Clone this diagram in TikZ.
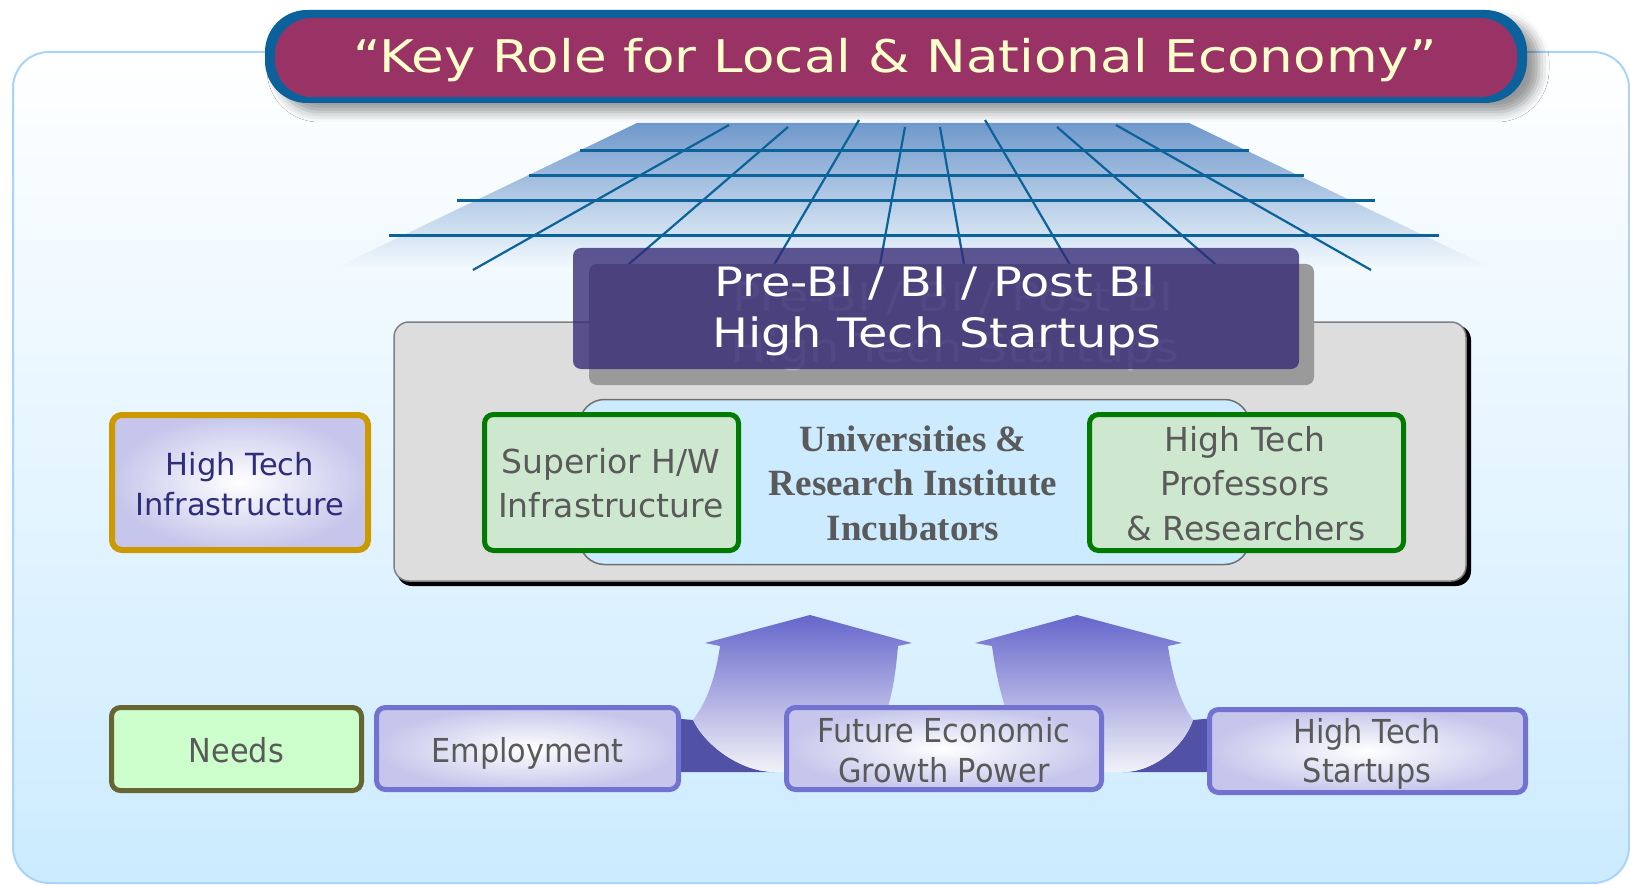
\documentclass[tikz,border=0pt]{standalone}
\usepackage{fontspec}
\usetikzlibrary{shadows.blur}
\newfontfamily\widesans[FakeStretch=1.18]{DejaVu Sans}
\newfontfamily\plainsans{DejaVu Sans}
\newfontfamily\narrowsans[FakeStretch=0.92]{DejaVu Sans}
\newfontfamily\boldserif{Liberation Serif}
\definecolor{bgblue}{HTML}{CCEBFF}
\definecolor{bgline}{HTML}{A8D4FA}
\definecolor{rimblue}{HTML}{0B619B}
\definecolor{plum}{HTML}{993366}
\definecolor{cream}{HTML}{FFFFCC}
\definecolor{gridtop}{HTML}{6F98CB}
\definecolor{gridline}{HTML}{0B6399}
\definecolor{panelgrey}{HTML}{DDDDDD}
\definecolor{panelline}{HTML}{808080}
\definecolor{incubblue}{HTML}{CCEBFF}
\definecolor{incubline}{HTML}{707070}
\definecolor{leafgreen}{HTML}{CDE8CE}
\definecolor{darkgreen}{HTML}{007A00}
\definecolor{gold}{HTML}{CC9900}
\definecolor{lavender}{HTML}{C6C6EC}
\definecolor{violet}{HTML}{7272D0}
\definecolor{navy}{HTML}{2E2E7A}
\definecolor{textgrey}{HTML}{5A5A5A}
\definecolor{mint}{HTML}{CCFFCC}
\definecolor{olive}{HTML}{666633}
\definecolor{bipurple}{HTML}{342975}
\definecolor{ghostgrey}{HTML}{BDBDBD}
\definecolor{shadowgrey}{HTML}{9A9A9A}
\definecolor{arrowtop}{HTML}{6666CC}
\definecolor{arrowlow}{HTML}{F2F2F8}
\definecolor{arrowbase}{HTML}{5151A6}

\begin{document}
\begin{tikzpicture}[x=1pt, y=-1pt,
  box/.style={rectangle, inner sep=0pt, rounded corners=9},
  line/.style={anchor=base, inner sep=0pt},
  greenbox/.style={box, draw=darkgreen, line width=5, fill=leafgreen},
  lavbox/.style={box, draw=violet, line width=5, inner color=white, outer color=lavender},
  greentext/.style={line, text=textgrey, font=\plainsans\fontsize{33}{40}\selectfont},
  rowtext/.style={line, text=textgrey, font=\narrowsans\fontsize{33}{40}\selectfont},
  incubtext/.style={line, text=textgrey, font=\boldserif\bfseries\fontsize{37}{44}\selectfont},
  bitext/.style={line, font=\widesans\fontsize{40.5}{50}\selectfont},
  gridln/.style={draw=gridline, line width=3},
  ray/.style={draw=gridline, line width=2.2},
  ]
  \useasboundingbox (0,0) rectangle (1630,885);
  % background panel
  \shade[top color=white, bottom color=bgblue, draw=bgline, line width=2, rounded corners=36]
  (13,52) rectangle (1629,883);
  %
  % title banner
  \node[box, fill=rimblue, rounded corners=42, minimum width=1262, minimum height=93,
    blur shadow={shadow xshift=12pt, shadow yshift=-9pt, shadow blur radius=10pt, shadow opacity=40}]
  (rim) at (896,56.5) {};
  \node[box, fill=plum, rounded corners=37, minimum width=1242, minimum height=79]
  (title) at (896,57.5) {};
  \node[line, text=cream, font=\widesans\fontsize{45}{54}\selectfont]
  (title-l1) at (895,73) {“Key Role for Local \& National Economy”};
  %
  % grid in perspective
  \shade[top color=gridtop, bottom color=bgblue!20!white]
  (637,123) -- (1189,123) -- (1496,270) -- (331,270) -- cycle;
  \foreach \y/\l/\r in {151/580/1249, 176/529/1304, 201/457/1375, 236/389/1439}
  \draw[gridln] (\l,\y) -- (\r,\y);
  \foreach \xt/\yt/\xb in {729/125/473, 788/127/622, 859/120/771, 905/127/879,
    940/127/965, 985/120/1073, 1057/127/1222, 1116/125/1371}
  \draw[ray] (\xt,\yt) -- (\xb,270);
  %
  % grey panel with the incubators
  \fill[black, rounded corners=15] (397,325) rectangle (1471,586);
  \node[box, draw=panelline, fill=panelgrey, line width=1.5, rounded corners=15,
    minimum width=1072, minimum height=259] (panel) at (930,451.5) {};
  \node[box, draw=incubline, fill=incubblue, line width=1.5, rounded corners=25,
    minimum width=670, minimum height=165] (incub) at (914.5,482) {};
  \node[incubtext] (incub-l1) at (913,451) {Universities \&};
  \node[incubtext] (incub-l2) at (913,495) {Research Institute};
  \node[incubtext] (incub-l3) at (913,540) {Incubators};
  \node[greenbox, minimum width=254, minimum height=136] (hwinfra) at (611.5,482.5) {};
  \node[greentext] (hwinfra-l1) at (611,473) {Superior H/W};
  \node[greentext] (hwinfra-l2) at (611,517) {Infrastructure};
  \node[greenbox, minimum width=314, minimum height=136] (profs) at (1246.5,482.5) {};
  \node[greentext] (profs-l1) at (1245,451) {High Tech};
  \node[greentext] (profs-l2) at (1245,495) {Professors};
  \node[greentext] (profs-l3) at (1246,540) {\& Researchers};
  %
  % startups box on top of the panel
  \node[box, fill=shadowgrey, rounded corners=8, minimum width=725, minimum height=121]
  (bishadow) at (951.5,324.5) {};
  \node[bitext, text=ghostgrey] (ghost-l1) at (953,312) {Pre-BI / BI / Post BI};
  \node[bitext, text=ghostgrey] (ghost-l2) at (955,362) {High Tech Startups};
  \node[box, fill=bipurple, fill opacity=0.78, rounded corners=8,
    minimum width=726, minimum height=121] (startups) at (936,308.5) {};
  \node[bitext, text=white] (startups-l1) at (935,297) {Pre-BI / BI / Post BI};
  \node[bitext, text=white] (startups-l2) at (937,347) {High Tech Startups};
  %
  % infrastructure box at left
  \node[box, draw=gold, line width=6, rounded corners=10, inner color=white, outer color=lavender,
    minimum width=256, minimum height=135] (infra) at (240,482.5) {};
  \node[line, text=navy, font=\plainsans\fontsize{30.5}{40}\selectfont]
  (infra-l1) at (240,475) {High Tech};
  \node[line, text=navy, font=\plainsans\fontsize{30.5}{40}\selectfont]
  (infra-l2) at (240,515) {Infrastructure};
  %
  % curved arrows rising from the bottom row
  \coordinate (tipl) at (810,615);
  \coordinate (tipr) at (1077,615);
  \fill[arrowbase] (670,718) -- (693,720) .. controls (705,745) and (740,772) .. (775,772)
  -- (670,772) -- cycle;
  \shade[top color=arrowtop, bottom color=arrowlow]
  (720,646) -- (705,643) -- (tipl) -- (912,643) -- (898,646)
  .. controls (895,680) and (890,725) .. (860,760) -- (800,772) -- (775,772)
  .. controls (740,772) and (705,745) .. (693,720)
  .. controls (708,700) and (716,675) .. (720,646) -- cycle;
  \fill[arrowbase] (1215,718) -- (1193,720) .. controls (1185,745) and (1155,772) .. (1123,772)
  -- (1215,772) -- cycle;
  \shade[top color=arrowtop, bottom color=arrowlow]
  (992,646) -- (975,643) -- (tipr) -- (1182,643) -- (1168,646)
  .. controls (1172,675) and (1180,702) .. (1193,720)
  .. controls (1185,745) and (1155,772) .. (1123,772) -- (1090,772) -- (1040,762)
  .. controls (1010,740) and (998,690) .. (992,646) -- cycle;
  %
  % bottom row
  \node[box, draw=olive, line width=5, fill=mint, minimum width=250, minimum height=83]
  (needs) at (236.5,749) {};
  \node[rowtext] (needs-l1) at (236.5,762) {Needs};
  \node[lavbox, minimum width=302, minimum height=82] (employ) at (527.5,748.5) {};
  \node[rowtext] (employ-l1) at (527.5,762) {Employment};
  \node[lavbox, minimum width=315, minimum height=82] (future) at (944,748.5) {};
  \node[rowtext] (future-l1) at (944,742) {Future Economic};
  \node[rowtext] (future-l2) at (944,782) {Growth Power};
  \node[lavbox, minimum width=316, minimum height=83] (htstart) at (1367.5,751) {};
  \node[rowtext] (htstart-l1) at (1367,743) {High Tech};
  \node[rowtext] (htstart-l2) at (1367,782) {Startups};
\end{tikzpicture}
\end{document}
